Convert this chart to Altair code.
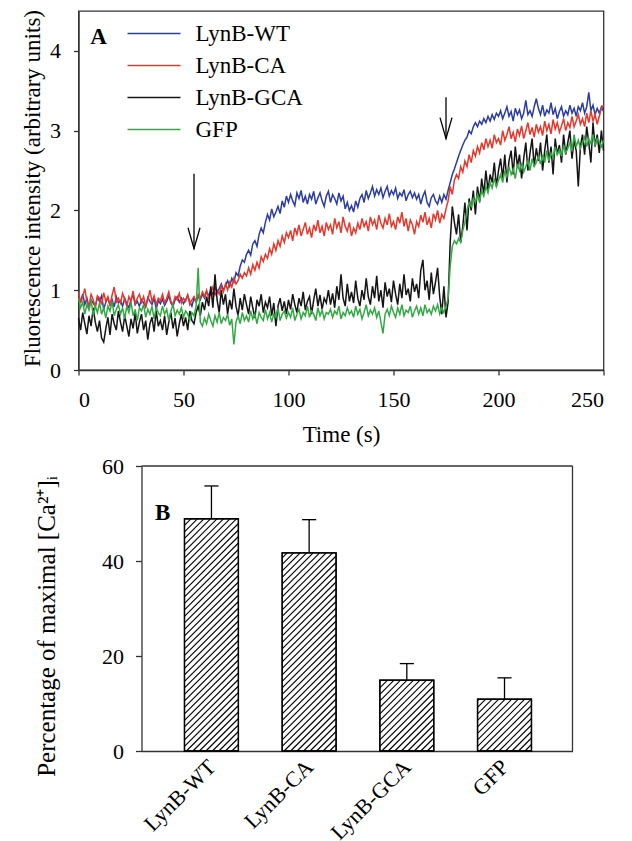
import altair as alt
import pandas as pd

FONT = "Liberation Serif"

# ---------------- data: panel A ----------------
series_names = ["LynB-WT", "LynB-CA", "LynB-GCA", "GFP"]
series_colors = ["#2d3d9e", "#e3382b", "#141414", "#35a845"]
time_s = list(range(0, 251))

wt = [0.92, 0.86, 0.95, 0.82, 0.9, 0.78, 0.88, 0.84, 0.8, 0.91,
      0.86, 0.93, 0.76, 0.85, 0.9, 0.82, 0.88, 0.79, 0.92, 0.84,
      0.87, 0.8, 0.9, 0.83, 0.78, 0.89, 0.94, 0.82, 0.86, 0.8,
      0.88, 0.84, 0.79, 0.91, 0.86, 0.82, 0.9, 0.76, 0.87, 0.83,
      0.89, 0.81, 0.86, 0.93, 0.84, 0.8, 0.88, 0.92, 0.85, 0.9,
      0.83, 0.88, 0.94, 0.86, 0.8, 0.9, 0.85, 0.92, 0.88, 0.95,
      0.9, 0.98, 0.93, 1.0, 0.95, 1.04, 0.97, 1.02, 1.08, 1.0,
      1.06, 1.12, 1.05, 1.15, 1.1, 1.22, 1.18, 1.3, 1.38, 1.35,
      1.45, 1.5, 1.44, 1.58, 1.62, 1.55, 1.7, 1.78, 1.72, 1.85,
      1.95, 1.88, 2.02, 1.92, 1.98, 2.05, 1.96, 2.12, 2.04, 2.18,
      2.1, 2.2, 2.12, 2.06, 2.22, 2.15, 2.25, 2.1, 2.18, 2.08,
      2.2, 2.14, 2.24, 2.08, 2.16, 2.22, 2.12, 2.05, 2.18, 2.24,
      2.1, 2.2, 2.15, 2.08, 2.22, 2.12, 2.18, 2.02, 2.1, 2.0,
      2.06, 1.98, 2.12, 2.04, 2.15, 2.2, 2.1, 2.25, 2.15, 2.22,
      2.3, 2.18, 2.26, 2.2, 2.28, 2.16, 2.24, 2.3, 2.18, 2.25,
      2.2, 2.28, 2.15, 2.22, 2.18, 2.26, 2.12, 2.2, 2.24, 2.16,
      2.22, 2.14, 2.2, 2.08, 2.18, 2.24, 2.1, 2.05, 2.16, 2.2,
      2.12, 2.08, 2.18, 2.1, 2.2, 2.14, 2.25, 2.35, 2.45, 2.52,
      2.6, 2.68, 2.75, 2.82, 2.88, 2.92, 3.0, 2.96, 3.05, 3.1,
      3.05, 3.12, 3.08, 3.15, 3.1, 3.18, 3.12, 3.2, 3.14, 3.22,
      3.18, 3.25, 3.15, 3.22, 3.3, 3.18, 3.24, 3.12, 3.28, 3.2,
      3.26, 3.15, 3.22, 3.38, 3.2, 3.25, 3.18, 3.3, 3.4, 3.28,
      3.2, 3.32, 3.18, 3.26, 3.22, 3.35, 3.2, 3.28, 3.15, 3.24,
      3.3, 3.18, 3.25, 3.2, 3.32, 3.22, 3.28, 3.18, 3.3, 3.25,
      3.35, 3.22, 3.3, 3.48, 3.25, 3.32, 3.2, 3.28, 3.22, 3.3,
      3.24]

ca = [0.98, 0.84, 0.92, 1.02, 0.86, 0.8, 0.95, 0.88, 0.78, 0.93,
      0.9, 0.82, 0.97, 0.86, 0.92, 0.8, 0.94, 1.04, 0.85, 0.9,
      0.84, 0.96, 0.88, 0.8, 0.92, 0.86, 0.99, 0.83, 0.9, 0.95,
      0.85, 0.92, 0.8, 0.88, 1.0, 0.86, 0.93, 0.82, 0.9, 0.87,
      0.95, 0.84, 0.9, 0.98, 0.86, 0.82, 0.92, 0.88, 0.96, 0.84,
      0.9, 0.86, 0.94, 0.82, 0.88, 0.92, 0.86, 0.95, 0.9, 0.98,
      0.92, 1.0, 0.9, 0.96, 1.04, 0.94, 1.0, 0.95, 1.05, 0.98,
      1.08, 1.0, 1.1, 1.04, 1.15, 1.08, 1.12, 1.2, 1.15, 1.22,
      1.18, 1.28, 1.2, 1.32, 1.25, 1.35, 1.28, 1.42, 1.36, 1.45,
      1.4, 1.52, 1.45, 1.58, 1.5, 1.62, 1.55, 1.68, 1.6, 1.72,
      1.66, 1.75, 1.62, 1.78, 1.7, 1.82, 1.68, 1.76, 1.85, 1.7,
      1.78, 1.66, 1.82, 1.74, 1.88, 1.72, 1.8, 1.68, 1.85, 1.76,
      1.82, 1.7, 1.9, 1.78, 1.86, 1.72, 1.92, 1.8, 1.74, 1.85,
      1.68, 1.78, 1.72, 1.84, 1.76, 1.9, 1.8, 1.86, 1.74, 1.92,
      1.82, 1.88, 1.76, 1.94, 1.84, 1.78, 1.9, 1.82, 1.96, 1.8,
      1.86, 1.76, 1.92, 1.84, 1.98, 1.8, 1.9, 1.74, 1.88, 1.82,
      1.7, 1.86, 1.8, 1.94, 1.85, 1.98, 1.82, 1.9, 1.78, 1.96,
      1.88, 2.0, 1.84, 1.95, 1.9, 2.02, 2.12, 2.3, 2.2, 2.38,
      2.45, 2.4, 2.55, 2.48, 2.62, 2.55, 2.7, 2.6, 2.75, 2.68,
      2.8, 2.72, 2.85, 2.76, 2.9, 2.8, 2.88, 2.78, 2.95, 2.85,
      2.9, 2.82, 3.0, 2.88, 2.95, 3.05, 2.9, 2.98, 2.86, 3.02,
      2.94, 3.06, 2.9, 3.0, 3.1, 2.95, 3.04, 2.92, 3.08, 2.98,
      3.05, 2.94, 3.12, 3.0, 3.08, 2.96, 3.14, 3.02, 3.1, 2.98,
      3.06, 3.15, 3.0, 3.1, 3.04, 3.18, 3.05, 3.12, 3.2, 3.08,
      3.15, 3.05, 3.22, 3.1, 3.25, 3.12, 3.2, 3.08, 3.18, 3.28,
      3.32]

gca = [0.65, 0.5, 0.72, 0.58, 0.45, 0.68, 0.55, 0.78, 0.6, 0.48,
       0.62, 0.4, 0.35, 0.52, 0.66, 0.44, 0.7, 0.58, 0.5, 0.74,
       0.6, 0.48, 0.68, 0.55, 0.42, 0.64, 0.52, 0.72, 0.46, 0.6,
       0.7, 0.5, 0.62, 0.38, 0.58, 0.66, 0.48, 0.74, 0.55, 0.62,
       0.5, 0.68, 0.44, 0.6, 0.72, 0.52, 0.65, 0.42, 0.58, 0.7,
       0.55, 0.66, 0.5, 0.74, 0.62, 0.58, 0.72, 0.8, 0.68, 0.85,
       0.75, 0.92, 0.8, 1.05, 0.78, 1.2, 0.88, 0.72, 1.0, 0.82,
       0.95, 0.7, 0.88, 0.76, 1.02, 0.8, 0.68, 0.9, 0.75, 0.95,
       0.82, 0.7, 0.92, 0.78, 0.65, 0.88, 0.8, 0.95, 0.72, 0.85,
       0.78, 0.92, 0.68, 0.84, 0.55, 0.8, 0.9, 0.74, 0.86, 0.7,
       0.88, 0.76, 0.95, 0.82, 0.72, 0.9, 0.8, 0.98, 0.75, 0.86,
       0.92, 0.7, 0.88, 1.02, 0.8, 0.94, 0.76, 0.9, 0.84, 1.0,
       0.82, 0.96, 0.78, 1.05, 0.88, 1.2, 0.9, 0.8, 1.08, 0.86,
       0.98, 0.84, 1.12, 0.9, 0.8, 1.0, 0.88, 1.15, 0.92, 0.82,
       1.05, 0.9, 1.18, 0.86, 1.0, 0.78, 1.1, 0.92, 1.02, 0.85,
       1.12, 0.95, 0.82, 1.08, 0.9, 1.2, 0.94, 1.02, 0.86, 1.15,
       0.98, 1.08, 0.9, 1.25, 1.38, 1.0, 1.12, 0.88, 1.22, 0.95,
       1.1, 1.28, 0.92, 0.7, 1.05, 0.66, 0.85, 1.6, 2.05, 1.85,
       1.7, 1.95, 1.6, 1.8, 2.1, 1.75, 2.15, 2.0, 2.25, 1.95,
       2.3, 2.1, 2.4, 2.2, 2.5, 2.25, 2.45, 2.35, 2.6, 2.3,
       2.5, 2.65, 2.4, 2.7, 2.35, 2.62, 2.75, 2.45, 2.8, 2.55,
       2.7, 2.4, 2.65, 2.85, 2.5, 2.72, 2.9, 2.55, 2.78, 2.62,
       2.85, 2.5, 2.75, 2.95, 2.6, 2.8, 2.45, 2.9, 2.7, 2.82,
       2.6, 2.95, 2.7, 2.85, 3.0, 2.65, 2.88, 2.75, 2.3, 2.8,
       2.95, 2.7, 3.05, 2.85, 2.6, 3.1, 2.8, 2.95, 2.72, 3.0,
       2.75]

gfp = [0.9, 0.78, 0.85, 0.7, 0.82, 0.75, 0.88, 0.68, 0.8, 0.72,
       0.84, 0.7, 0.78, 0.65, 0.8, 0.74, 0.86, 0.68, 0.76, 0.82,
       0.7, 0.78, 0.64, 0.8, 0.72, 0.85, 0.68, 0.76, 0.62, 0.78,
       0.74, 0.82, 0.66, 0.76, 0.7, 0.8, 0.64, 0.78, 0.72, 0.68,
       0.8, 0.7, 0.76, 0.62, 0.74, 0.82, 0.68, 0.75, 0.7, 0.78,
       0.66, 0.74, 0.7, 0.62, 0.72, 0.68, 0.8, 1.28, 0.6, 0.55,
       0.65, 0.58, 0.7, 0.62, 0.55, 0.68, 0.6, 0.72, 0.58, 0.66,
       0.62, 0.7, 0.56, 0.64, 0.32, 0.6, 0.68, 0.58, 0.72, 0.62,
       0.68, 0.6, 0.74, 0.64, 0.7, 0.58, 0.72, 0.66, 0.62, 0.76,
       0.64, 0.72, 0.6, 0.7, 0.66, 0.78, 0.62, 0.7, 0.74, 0.65,
       0.72, 0.66, 0.78, 0.62, 0.7, 0.76, 0.64, 0.72, 0.68, 0.8,
       0.66, 0.74, 0.7, 0.62, 0.78, 0.68, 0.75, 0.64, 0.72, 0.7,
       0.76, 0.66, 0.74, 0.7, 0.8, 0.64, 0.72, 0.68, 0.78, 0.7,
       0.74, 0.66, 0.8, 0.7, 0.76, 0.64, 0.72, 0.82, 0.68, 0.75,
       0.7, 0.78, 0.66, 0.74, 0.6, 0.46, 0.7, 0.76, 0.68, 0.8,
       0.72, 0.66, 0.78, 0.7, 0.82, 0.68, 0.75, 0.72, 0.8, 0.66,
       0.74, 0.8, 0.7, 0.78, 0.68, 0.82, 0.72, 0.76, 0.7, 0.8,
       0.74, 0.82, 0.7, 0.78, 0.72, 0.8, 0.9, 1.3, 1.55, 1.62,
       1.58, 1.65, 1.6, 1.75, 1.85, 2.0, 2.1, 2.05, 2.15, 2.1,
       2.2, 2.12, 2.25, 2.18, 2.3, 2.22, 2.35, 2.28, 2.4, 2.3,
       2.38, 2.45, 2.35, 2.5, 2.42, 2.55, 2.45, 2.52, 2.4, 2.58,
       2.5, 2.6, 2.48, 2.55, 2.62, 2.5, 2.65, 2.55, 2.6, 2.68,
       2.58, 2.7, 2.6, 2.75, 2.62, 2.72, 2.66, 2.8, 2.7, 2.76,
       2.68, 2.82, 2.72, 2.78, 2.85, 2.74, 2.95, 2.8, 2.88, 2.78,
       2.85, 2.92, 2.8, 2.9, 2.84, 2.95, 2.82, 2.9, 2.86, 2.8,
       2.88]

arrow_t = [55, 175]
arrow_top = [2.46, 3.42]
arrow_tip = [1.52, 2.9]

# ---------------- data: panel B ----------------
bar_labels = ["LynB-WT", "LynB-CA", "LynB-GCA", "GFP"]
bar_pos = [1, 2, 3, 4]
bar_means = [48.9, 41.7, 14.9, 10.9]
bar_errs = [6.9, 7.0, 3.5, 4.5]

# ---------------- layout constants ----------------
TOP_W, TOP_H = 525, 359
TOP_X = [0, 250]
TOP_Y = [0, 4.5]

BOT_OFF = 63          # bottom plot starts 63 px right of top plot
BOT_PW, BOT_H = 431, 285
BOT_W = BOT_OFF + BOT_PW
BOT_X = [0.284, 4.696]
BOT_Y = [0, 60]
BAR_HALF = 0.276
CAP_HALF = 0.072
HATCH_STEP = 6.5
FRAME = "#333333"

# ---------------- panel A ----------------
rows = []
for name, vals in zip(series_names, [wt, ca, gca, gfp]):
    for t, v in zip(time_s, vals):
        rows.append({"t": t, "v": v, "series": name})
line_df = pd.DataFrame(rows)

ax_x_top = alt.Axis(values=[0, 50, 100, 150, 200, 250], title="Time (s)",
                    tickSize=5, labelPadding=14, titleY=64, titleBaseline="middle",
                    labelFontSize=22, titleFontSize=23)
ax_y_top = alt.Axis(values=[0, 1, 2, 3, 4], title="Fluorescence intensity (arbitrary units)",
                    tickSize=5, labelPadding=13, titleX=-46, titleY=177,
                    titleBaseline="middle", labelFontSize=22, titleFontSize=23)
xs_top = alt.Scale(domain=TOP_X, nice=False, zero=False)
ys_top = alt.Scale(domain=TOP_Y, nice=False)

lines = alt.Chart(line_df).mark_line(strokeWidth=1.5).encode(
    x=alt.X("t:Q", scale=xs_top, axis=ax_x_top),
    y=alt.Y("v:Q", scale=ys_top, axis=ax_y_top),
    color=alt.Color("series:N", sort=series_names,
                    scale=alt.Scale(domain=series_names, range=series_colors),
                    legend=alt.Legend(orient="none", legendX=48, legendY=11, title=None,
                                      symbolType="stroke", symbolSize=2809,
                                      symbolStrokeWidth=1.5, labelFontSize=23,
                                      labelFont=FONT, labelColor="black",
                                      clipHeight=23, rowPadding=8, labelOffset=14)),
)

arrow_df = pd.DataFrame({"t": arrow_t, "top": arrow_top, "tip": arrow_tip})
shaft = alt.Chart(arrow_df).mark_rule(color="black", strokeWidth=1.3).encode(
    x=alt.X("t:Q", scale=xs_top, axis=ax_x_top),
    y=alt.Y("top:Q", scale=ys_top, axis=ax_y_top),
    y2="tip:Q",
)
head = alt.Chart(arrow_df).mark_point(
    shape="M-0.57,-1L0,1L0.57,-1", size=441, filled=False, stroke="black",
    strokeWidth=1.3, opacity=1, yOffset=-10.5,
).encode(
    x=alt.X("t:Q", scale=xs_top, axis=ax_x_top),
    y=alt.Y("tip:Q", scale=ys_top, axis=ax_y_top),
)
label_a = alt.Chart(pd.DataFrame({"x": [9.5], "y": [4.17], "txt": ["A"]})).mark_text(
    font=FONT, fontSize=23, fontWeight="bold", color="black"
).encode(
    x=alt.X("x:Q", scale=xs_top, axis=ax_x_top),
    y=alt.Y("y:Q", scale=ys_top, axis=ax_y_top),
    text="txt:N",
)

top = alt.layer(lines, shaft, head, label_a).properties(
    width=TOP_W, height=TOP_H,
    view=alt.ViewBackground(stroke=FRAME, strokeWidth=1.3),
)

# ---------------- panel B ----------------
bar_df = pd.DataFrame({"pos": bar_pos, "label": bar_labels, "mean": bar_means, "err": bar_errs})
bar_df["x0"] = bar_df["pos"] - BAR_HALF
bar_df["x1"] = bar_df["pos"] + BAR_HALF
bar_df["top"] = bar_df["mean"] + bar_df["err"]
bar_df["c0"] = bar_df["pos"] - CAP_HALF
bar_df["c1"] = bar_df["pos"] + CAP_HALF

px_x = BOT_PW / (BOT_X[1] - BOT_X[0])
px_y = BOT_H / (BOT_Y[1] - BOT_Y[0])
hatch_rows = []
for _, r in bar_df.iterrows():
    w = 2 * BAR_HALF * px_x
    h = r["mean"] * px_y
    c = -w
    while c < h:
        xs = max(0.0, -c)
        xe = min(w, h - c)
        if xe > xs:
            hatch_rows.append({
                "hx0": r["x0"] + xs / px_x, "hy0": (xs + c) / px_y,
                "hx1": r["x0"] + xe / px_x, "hy1": (xe + c) / px_y,
            })
        c += HATCH_STEP
hatch_df = pd.DataFrame(hatch_rows)

label_expr = "[" + ",".join("'" + s + "'" for s in bar_labels) + "][datum.value - 1]"
ax_x_bot = alt.Axis(values=bar_pos, labelExpr=label_expr, labelAngle=315, ticks=False,
                    title=None, labelPadding=12, labelAlign="right", labelBaseline="middle",
                    labelOverlap=False, labelFontSize=22)
ax_y_bot = alt.Axis(values=[0, 20, 40, 60], title="Percentage of maximal [Ca²⁺]ᵢ",
                    offset=-BOT_OFF, tickSize=6, labelPadding=12, titleX=-95, titleY=160,
                    titleBaseline="middle", labelFontSize=22, titleFontSize=25)
xs_bot = alt.Scale(domain=BOT_X, range=[BOT_OFF, BOT_W], nice=False, zero=False)
ys_bot = alt.Scale(domain=BOT_Y, nice=False)

bars = alt.Chart(bar_df).mark_rect(fill="white", stroke="black", strokeWidth=1.3).encode(
    x=alt.X("x0:Q", scale=xs_bot, axis=ax_x_bot), x2="x1:Q",
    y=alt.Y("mean:Q", scale=ys_bot, axis=ax_y_bot), y2=alt.datum(0),
)
hatch = alt.Chart(hatch_df).mark_rule(color="black", strokeWidth=1.1).encode(
    x=alt.X("hx0:Q", scale=xs_bot, axis=ax_x_bot), x2="hx1:Q",
    y=alt.Y("hy0:Q", scale=ys_bot, axis=ax_y_bot), y2="hy1:Q",
)
outline = alt.Chart(bar_df).mark_rect(fill="transparent", stroke="black", strokeWidth=1.3).encode(
    x=alt.X("x0:Q", scale=xs_bot, axis=ax_x_bot), x2="x1:Q",
    y=alt.Y("mean:Q", scale=ys_bot, axis=ax_y_bot), y2=alt.datum(0),
)
err = alt.Chart(bar_df).mark_rule(color="black", strokeWidth=1.3).encode(
    x=alt.X("pos:Q", scale=xs_bot, axis=ax_x_bot),
    y=alt.Y("mean:Q", scale=ys_bot, axis=ax_y_bot), y2="top:Q",
)
cap = alt.Chart(bar_df).mark_rule(color="black", strokeWidth=1.3).encode(
    x=alt.X("c0:Q", scale=xs_bot, axis=ax_x_bot), x2="c1:Q",
    y=alt.Y("top:Q", scale=ys_bot, axis=ax_y_bot),
)
frame_df = pd.DataFrame({"xa": [BOT_X[0], BOT_X[1]], "xb": [BOT_X[1], BOT_X[1]],
                         "ya": [BOT_Y[1], BOT_Y[0]], "yb": [BOT_Y[1], BOT_Y[1]]})
frame = alt.Chart(frame_df).mark_rule(color=FRAME, strokeWidth=1.3).encode(
    x=alt.X("xa:Q", scale=xs_bot, axis=ax_x_bot), x2="xb:Q",
    y=alt.Y("ya:Q", scale=ys_bot, axis=ax_y_bot), y2="yb:Q",
)
label_b = alt.Chart(pd.DataFrame({"x": [0.5], "y": [50.2], "txt": ["B"]})).mark_text(
    font=FONT, fontSize=23, fontWeight="bold", color="black"
).encode(
    x=alt.X("x:Q", scale=xs_bot, axis=ax_x_bot),
    y=alt.Y("y:Q", scale=ys_bot, axis=ax_y_bot),
    text="txt:N",
)

bottom = alt.layer(bars, hatch, outline, err, cap, frame, label_b).properties(
    width=BOT_W, height=BOT_H,
    view=alt.ViewBackground(stroke="transparent"),
)

chart = alt.vconcat(top, bottom, spacing=7).properties(
    padding={"left": 12.5, "top": 0, "right": 5, "bottom": 0},
).configure(font=FONT).configure_axis(
    labelFont=FONT, titleFont=FONT, labelColor="black", titleColor="black",
    titleFontWeight="normal", domainColor=FRAME, tickColor=FRAME,
    domainWidth=1.3, tickWidth=1.3, grid=False,
).configure_view(stroke=FRAME)

chart.save("out.html", embed_options={"renderer": "svg", "actions": False})
